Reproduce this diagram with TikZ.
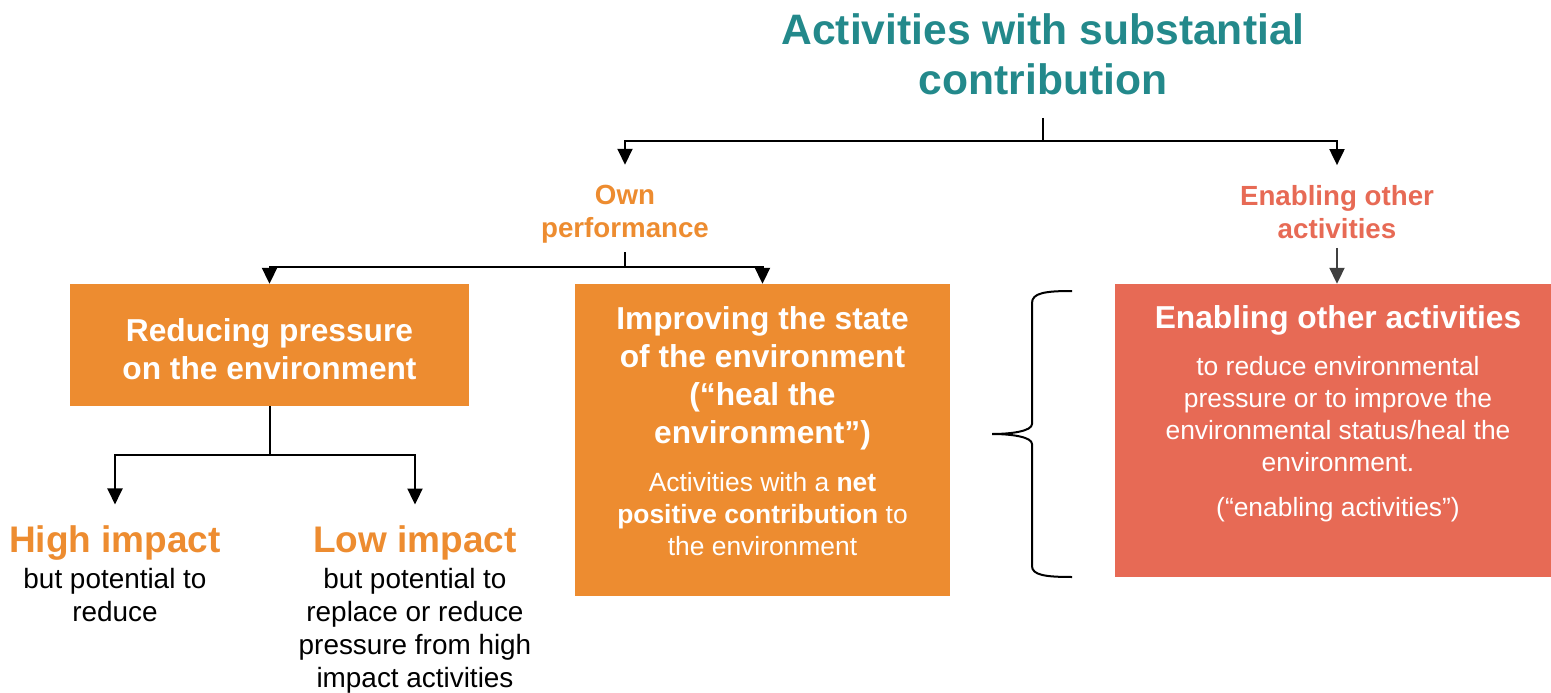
\documentclass[tikz,border=0pt]{standalone}
\usepackage{fontspec}
\setmainfont{Liberation Sans}
\usetikzlibrary{positioning,arrows.meta,calc}
\definecolor{titleteal}{HTML}{23898B}
\definecolor{ownorange}{HTML}{ED8C30}
\definecolor{enablered}{HTML}{E76A55}
\definecolor{arrowgray}{HTML}{404040}

\begin{document}
\begin{tikzpicture}[x=1pt,y=-1pt,
    stem/.style={line width=2pt},
    conn/.style={line width=2pt, -{Triangle[width=15pt,length=16pt]}},
    titletxt/.style={text=titleteal, align=center, inner sep=0pt, font=\bfseries\fontsize{42.6}{50}\selectfont},
    branch/.style={align=center, inner sep=0pt, font=\bfseries\fontsize{27.7}{33}\selectfont},
    box/.style={inner sep=0pt},
    boxhead/.style={inner sep=0pt, text=white, align=center, font=\bfseries\fontsize{31.7}{38}\selectfont},
    boxbody/.style={inner sep=0pt, text=white, align=center, font=\fontsize{26.4}{32}\selectfont},
    impact/.style={inner sep=0pt, text=ownorange, font=\bfseries\fontsize{37}{44}\selectfont},
    note/.style={inner sep=0pt, align=center, font=\fontsize{27.9}{33}\selectfont},
    brace/.style={line width=2pt}]
    \useasboundingbox (0,0) rectangle (1551,693);

    % Title and branches
    \node[titletxt] (title) at (1043,54) {Activities with substantial\\contribution};
    \node[branch, text=ownorange] (own) at (625,214) {Own\\performance};
    \node[branch, text=enablered] (enab) at (1337,212) {Enabling other\\activities};

    % Boxes
    \node[box, fill=ownorange, minimum width=399pt, minimum height=122pt] (reduce) at (269.5,345) {};
    \node[boxhead] (reduceHead) at (269.5,349) {Reducing pressure\\on the environment};
    \node[box, fill=ownorange, minimum width=375pt, minimum height=312pt] (improve) at (762.5,440) {};
    \node[boxhead] (improveHead) at (762.5,378) {Improving the state\\of the environment\\(“heal the\\environment”)};
    \node[boxbody] (improveBody) at (762.5,514) {Activities with a \textbf{net}\\\textbf{positive contribution} to\\the environment};
    \node[box, fill=enablered, minimum width=436pt, minimum height=293pt] (enable) at (1333,430.5) {};
    \node[boxhead] (enableHead) at (1338,320) {Enabling other activities};
    \node[boxbody] (enableBody) at (1338,414) {to reduce environmental\\pressure or to improve the\\environmental status/heal the\\environment.};
    \node[boxbody] (enableNote) at (1338,510) {(“enabling activities”)};

    % Impact labels
    \node[impact] (high) at (115,543) {High impact};
    \node[note] (highTxt) at (115,595) {but potential to\\reduce};
    \node[impact] (low) at (415,543) {Low impact};
    \node[note] (lowTxt) at (415,631) {but potential to\\replace or reduce\\pressure from high\\impact activities};

    % Connectors
    \draw[stem] ([yshift=-23pt]title.south) -- ++(0,23) coordinate (tsplit);
    \draw[conn, shorten >=20pt] (tsplit) -| (own.north);
    \draw[conn, shorten >=20pt] (tsplit) -| (enab.north);
    \draw[stem] ([yshift=-9pt]own.south) -- ++(0,15) coordinate (osplit);
    \draw[conn] (osplit) -| (reduce.north);
    \draw[conn] (osplit) -| (improve.north);
    \draw[conn, color=arrowgray] ([yshift=-9pt]enab.south) -- (enab.south |- enable.north);
    \draw[stem] (reduce.south) -- ++(0,49) coordinate (rsplit);
    \draw[conn, shorten >=21pt] (rsplit) -| (high.north);
    \draw[conn, shorten >=21pt] (rsplit) -| (low.north);

    % Brace
    \draw[brace] (1072,291) .. controls (1045,291) and (1032,293) .. (1032,303) -- (1032,424)
        .. controls (1032,431) and (1012,434) .. (992,434)
        .. controls (1012,434) and (1032,437) .. (1032,444) -- (1032,566)
        .. controls (1032,575) and (1045,577) .. (1072,577);
\end{tikzpicture}
\end{document}
